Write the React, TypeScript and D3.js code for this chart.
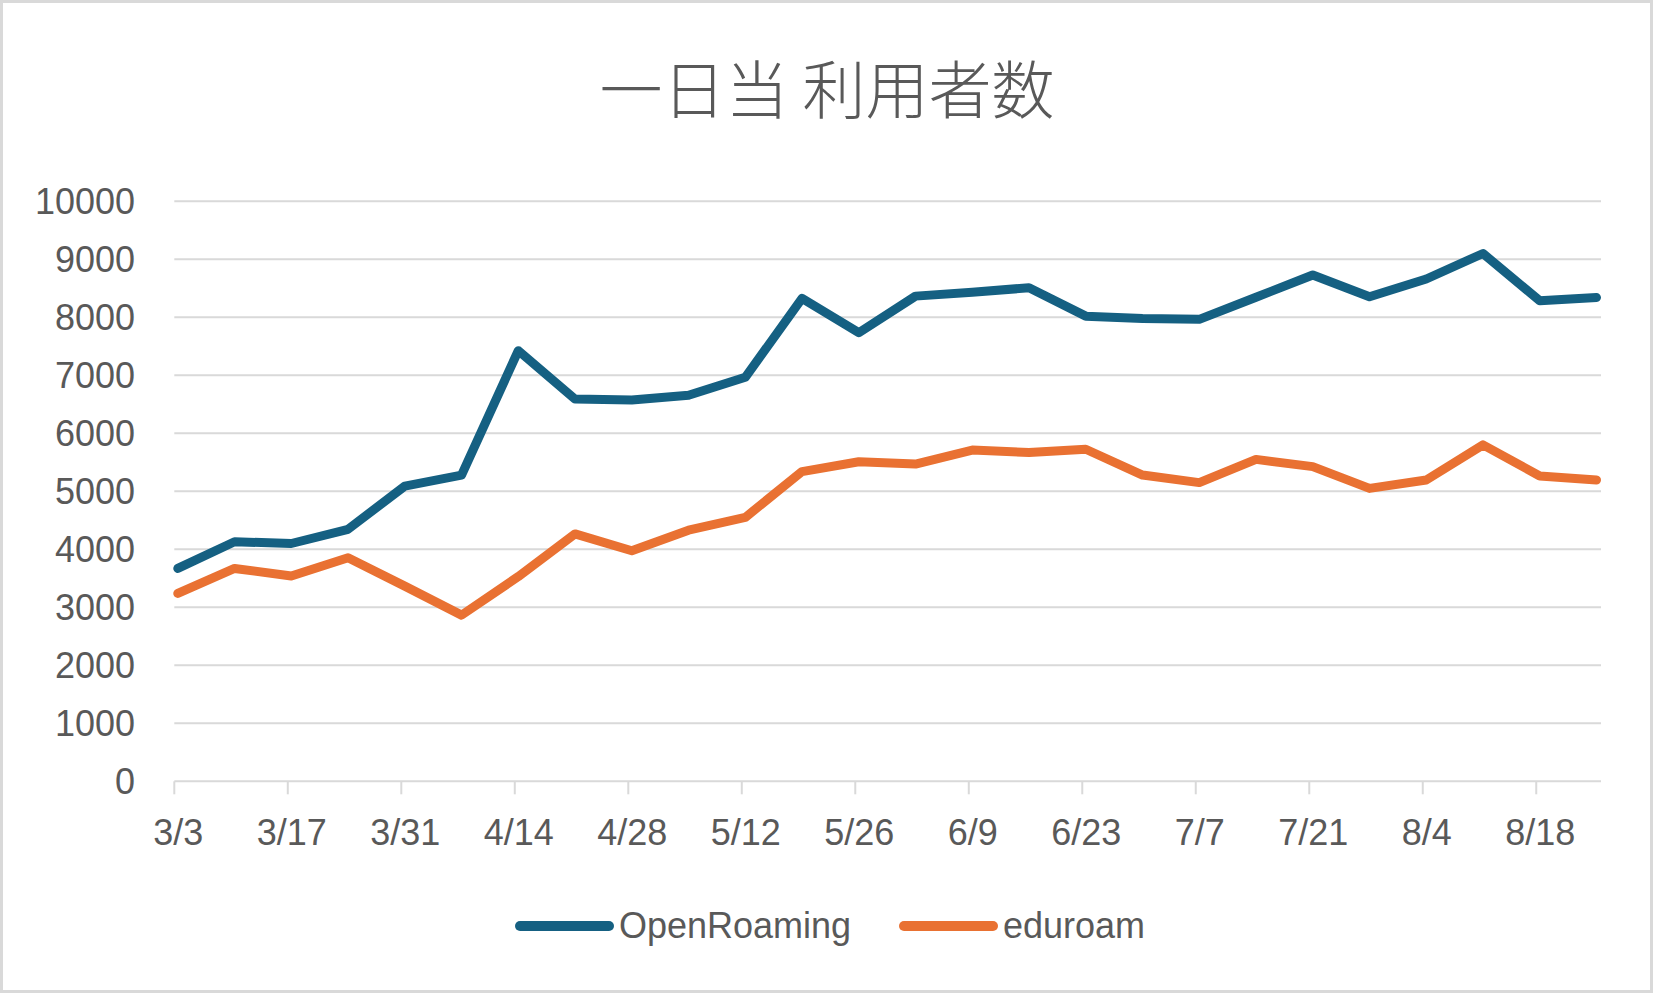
import React, { useEffect } from 'react'
import * as d3 from 'd3'

// weekly dates from 3/3 to 8/25
const dates = [
  '3/3', '3/10', '3/17', '3/24', '3/31', '4/7', '4/14', '4/21', '4/28', '5/5',
  '5/12', '5/19', '5/26', '6/2', '6/9', '6/16', '6/23', '6/30', '7/7', '7/14',
  '7/21', '7/28', '8/4', '8/11', '8/18', '8/25'
]

const openRoaming = [
  3670, 4130, 4100, 4345, 5090, 5280, 7425, 6590, 6575, 6655,
  6965, 8325, 7735, 8365, 8430, 8510, 8020, 7980, 7965, 8345,
  8730, 8355, 8660, 9100, 8285, 8340
]

const eduroam = [
  3240, 3670, 3540, 3855, 3365, 2865, 3530, 4265, 3975, 4330,
  4550, 5340, 5510, 5470, 5710, 5670, 5725, 5280, 5150, 5550,
  5425, 5050, 5195, 5800, 5265, 5195
]

const yTicks = [0, 1000, 2000, 3000, 4000, 5000, 6000, 7000, 8000, 9000, 10000]

const seriesNames = ['OpenRoaming', 'eduroam']
const seriesColors = ['#156082', '#E97132']

const W = 1653
const H = 993
const plot = { left: 174.3, right: 1601, top: 201.3, bottom: 781.3 }
const textColor = '#595959'
const gridColor = '#D9D9D9'
const font = '"Liberation Sans", Arial, sans-serif'

const App = () => {
  useEffect(() => {
    document.body.style.margin = '0'
  }, [])

  // tick positions and point positions (Excel's date axis puts points a touch right of the ticks)
  const x = d3.scalePoint<string>().domain(dates).range([plot.left, 1593])
  const xPoint = d3.scalePoint<string>().domain(dates).range([plot.left + 3.5, 1596.5])
  const y = d3.scaleLinear().domain([0, 10000]).range([plot.bottom, plot.top])

  const line = d3.line<number>()
    .x((_, i) => xPoint(dates[i]) as number)
    .y(d => y(d))

  const allSeries = [openRoaming, eduroam]
  const labelDates = dates.filter((_, i) => i % 2 === 0)

  return (
    <svg width={W} height={H} style={{ display: 'block' }}>
      <rect x={1.5} y={1.5} width={W - 3} height={H - 3} fill='white' stroke={gridColor} strokeWidth={3} />

      <text
        x={827}
        y={85}
        textAnchor='middle'
        dominantBaseline='central'
        fontFamily='"Noto Sans CJK JP", "Noto Sans CJK SC", sans-serif'
        fontWeight={300}
        fontSize={63}
        fill={textColor}
      >
        一日当 利用者数
      </text>

      {/* gridlines + y labels */}
      {yTicks.map(t => (
        <g key={t}>
          <line x1={plot.left} x2={plot.right} y1={y(t)} y2={y(t)} stroke={gridColor} strokeWidth={2} />
          <text
            x={135}
            y={y(t)}
            textAnchor='end'
            dominantBaseline='central'
            fontFamily={font}
            fontSize={36}
            fill={textColor}
          >
            {t}
          </text>
        </g>
      ))}

      {/* x ticks + labels */}
      {labelDates.map(d => (
        <g key={d}>
          <line x1={x(d)} x2={x(d)} y1={plot.bottom} y2={plot.bottom + 13} stroke={gridColor} strokeWidth={2} />
          <text
            x={(x(d) as number) + 4}
            y={845}
            textAnchor='middle'
            fontFamily={font}
            fontSize={36}
            fill={textColor}
          >
            {d}
          </text>
        </g>
      ))}

      {/* series */}
      {allSeries.map((s, i) => (
        <path
          key={seriesNames[i]}
          d={line(s) || ''}
          fill='none'
          stroke={seriesColors[i]}
          strokeWidth={9}
          strokeLinejoin='round'
          strokeLinecap='round'
        />
      ))}

      {/* legend */}
      {seriesNames.map((name, i) => {
        const lx = i === 0 ? 520 : 904
        return (
          <g key={name}>
            <line x1={lx} x2={lx + 89} y1={926} y2={926} stroke={seriesColors[i]} strokeWidth={10} strokeLinecap='round' />
            <text
              x={lx + 99}
              y={938}
              fontFamily={font}
              fontSize={36}
              fill={textColor}
            >
              {name}
            </text>
          </g>
        )
      })}
    </svg>
  )
}

export default App
